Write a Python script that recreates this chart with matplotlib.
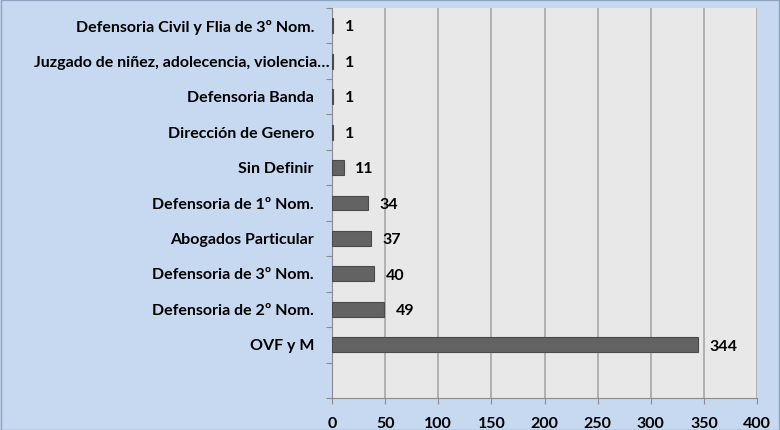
import numpy as np
import matplotlib.pyplot as plt
from matplotlib.transforms import ScaledTranslation

# categories from top to bottom as shown
categories = ['Defensoria Civil y Flia de 3º Nom.',
              'Juzgado de niñez, adolecencia, violencia…',
              'Defensoria Banda',
              'Dirección de Genero',
              'Sin Definir',
              'Defensoria de 1º Nom.',
              'Abogados Particular',
              'Defensoria de 3º Nom.',
              'Defensoria de 2º Nom.',
              'OVF y M']
values = [1, 1, 1, 1, 11, 34, 37, 40, 49, 344]
xticks = [0, 50, 100, 150, 200, 250, 300, 350, 400]

plt.rcParams['font.family'] = ['Lato', 'DejaVu Sans']

fig = plt.figure(figsize=(7.8, 4.3), dpi=100, facecolor='#c6d9f1')
ax = fig.add_axes([0.4256, 0.0744, 0.545, 0.907])
ax.set_facecolor('#e8e8e8')

n = len(categories)
# bottom slot stays empty, like the original
pos = np.arange(n, 0, -1)
ax.barh(pos, values, height=0.42, color='#636363', edgecolor='#4a4a4a', linewidth=0.8, zorder=3)

for p, v in zip(pos, values):
    ax.text(v + 11, p - 0.05, str(v), va='center', ha='left', fontsize=11.5, fontweight='bold', color='black')

ax.set_xlim(0, 400)
ax.set_ylim(-0.5, n + 0.5)
ax.set_xticks(xticks)
ax.set_xticklabels([str(t) for t in xticks], fontsize=11.5, fontweight='bold')
ax.set_yticks(np.arange(-0.5, n + 1, 1))
ax.set_yticklabels([])
ax.set_yticks(pos, minor=True)
ax.set_yticklabels(categories, minor=True, fontsize=11.5, fontweight='bold')
ax.tick_params(axis='y', which='minor', length=0, pad=13)
ax.tick_params(axis='y', which='major', length=4, color='#8c8c8c', direction='out')
ax.tick_params(axis='x', length=4, color='#8c8c8c', direction='out', pad=10)

# the truncated label sits closer to the axis
lab = ax.get_yticklabels(minor=True)[1]
lab.set_transform(lab.get_transform() + ScaledTranslation(11 / 72, 0, fig.dpi_scale_trans))

ax.xaxis.grid(True, color='#a6a6a6', linewidth=1.2, zorder=0)
ax.set_axisbelow(True)
for s in ['top', 'right']:
    ax.spines[s].set_visible(False)
ax.spines['left'].set_color('#8c8c8c')
ax.spines['bottom'].set_color('#8c8c8c')

fig.patches.append(plt.Rectangle((0.001, 0.001), 0.998, 0.998, transform=fig.transFigure,
                                 fill=False, edgecolor='#8ea4c0', linewidth=1))

plt.savefig('out.png', dpi=100, facecolor=fig.get_facecolor())
